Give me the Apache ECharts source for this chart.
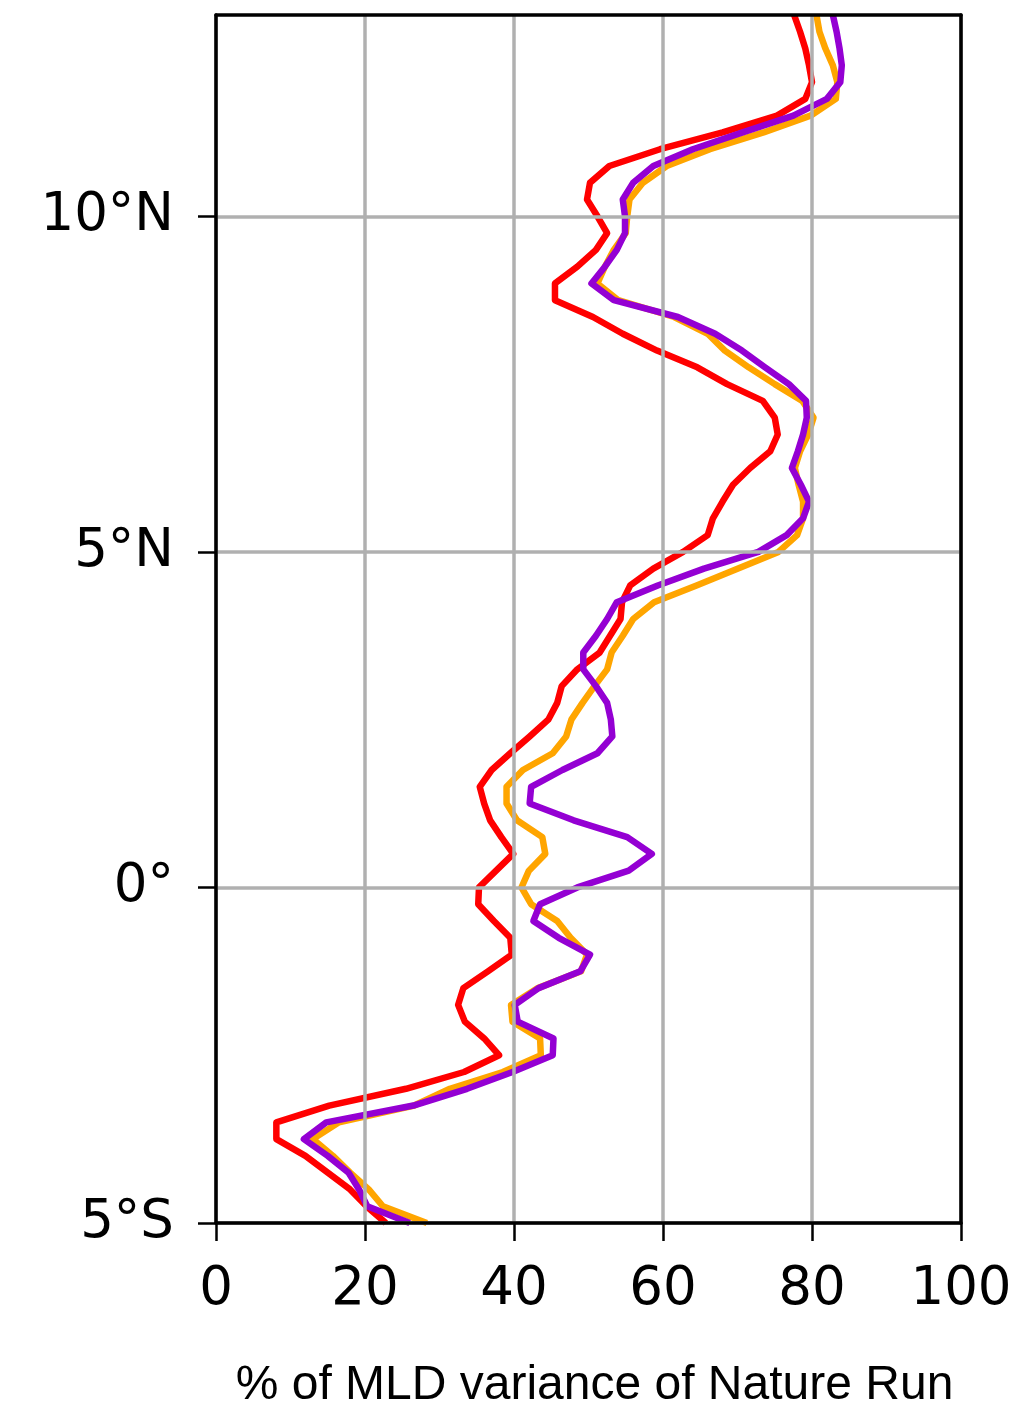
<!DOCTYPE html>
<html>
<head>
<meta charset="utf-8">
<script src="https://cdn.jsdelivr.net/npm/echarts@6/dist/echarts.min.js"></script>
<style>
  html, body { margin: 0; padding: 0; background: #ffffff; }
  #chart { width: 1020px; height: 1408px; }
</style>
</head>
<body>
<div id="chart"></div>
<script>
// Latitude of each sample (degrees, negative = south), 0.25 degree spacing
const latitudes = [
  -5.00, -4.75, -4.50, -4.25, -4.00, -3.75, -3.50, -3.25, -3.00, -2.75,
  -2.50, -2.25, -2.00, -1.75, -1.50, -1.25, -1.00, -0.75, -0.50, -0.25,
   0.00,  0.25,  0.50,  0.75,  1.00,  1.25,  1.50,  1.75,  2.00,  2.25,
   2.50,  2.75,  3.00,  3.25,  3.50,  3.75,  4.00,  4.25,  4.50,  4.75,
   5.00,  5.25,  5.50,  5.75,  6.00,  6.25,  6.50,  6.75,  7.00,  7.25,
   7.50,  7.75,  8.00,  8.25,  8.50,  8.75,  9.00,  9.25,  9.50,  9.75,
  10.00, 10.25, 10.50, 10.75, 11.00, 11.25, 11.50, 11.75, 12.00, 12.25,
  12.50, 12.75, 13.00
];

// % of MLD variance of the Nature Run recovered by each experiment
const expRed = [
  22.8, 20.2, 18.0, 15.0, 12.0,  8.1,  8.1, 15.2, 25.5, 33.3,
  38.0, 36.0, 33.4, 32.5, 33.2, 36.5, 39.7, 39.5, 37.3, 35.2,
  35.3, 37.6, 39.9, 38.3, 36.8, 36.0, 35.4, 37.0, 39.5, 42.1,
  44.6, 45.8, 46.4, 48.5, 51.5, 52.9, 54.3, 54.5, 55.6, 58.7,
  62.7, 66.0, 66.7, 68.0, 69.4, 71.7, 74.4, 75.4, 75.0, 73.4,
  68.6, 64.6, 59.2, 54.6, 50.6, 45.5, 45.5, 48.5, 51.0, 52.5,
  51.2, 49.8, 50.2, 52.8, 59.6, 68.0, 75.3, 79.1, 80.0, 79.6,
  79.1, 78.4, 77.6
];
const expOrange = [
  28.3, 22.4, 20.5, 18.0, 15.7, 13.0, 16.5, 26.6, 31.4, 38.5,
  43.6, 43.5, 39.8, 39.6, 43.2, 49.0, 49.8, 47.6, 45.8, 42.3,
  41.0, 42.0, 44.2, 43.8, 40.4, 39.0, 39.0, 41.2, 45.2, 47.0,
  47.7, 49.2, 50.8, 52.5, 53.1, 54.6, 56.0, 58.8, 64.5, 70.0,
  75.5, 78.0, 78.8, 78.8, 78.2, 77.7, 78.4, 79.5, 80.2, 78.7,
  75.0, 71.5, 68.3, 66.0, 61.5, 54.0, 51.2, 52.2, 53.4, 55.0,
  55.2, 55.5, 57.3, 60.5, 66.3, 73.5, 79.8, 83.2, 83.4, 82.8,
  81.8, 81.0, 80.6
];
const expPurple = [
  26.0, 20.3, 19.2, 17.8, 15.0, 11.8, 14.8, 26.5, 33.7, 39.8,
  45.2, 45.3, 40.5, 40.1, 43.3, 48.9, 50.2, 46.0, 42.6, 43.5,
  48.5, 55.4, 58.5, 55.2, 48.0, 42.1, 42.3, 46.5, 51.2, 53.2,
  53.0, 52.5, 51.0, 49.3, 49.3, 51.0, 52.5, 53.8, 59.3, 65.5,
  72.8, 76.6, 78.8, 79.6, 78.5, 77.3, 78.1, 78.8, 79.3, 79.2,
  76.9, 73.7, 70.6, 67.0, 62.0, 53.4, 50.4, 52.2, 53.8, 54.9,
  54.9, 54.6, 56.0, 58.7, 64.0, 70.7, 77.5, 82.0, 83.8, 84.0,
  83.7, 83.3, 82.8
];

// Axis ticks
const percentTicks = [0, 20, 40, 60, 80, 100];
const latTicks = [-5, 0, 5, 10];

const tickFont = 'DejaVu Sans';
const titleFont = '"Liberation Sans", Arial, Helvetica, sans-serif';

function latLabel(v) {
  if (v > 0) return v + '°N';
  if (v < 0) return (-v) + '°S';
  return '0°';
}

function profile(values) {
  return values.map((v, i) => [v, latitudes[i]]);
}

const chart = echarts.init(document.getElementById('chart'), null, { renderer: 'canvas' });

const spine = { color: '#000000', width: 3.5 };

chart.setOption({
  animation: false,
  backgroundColor: '#ffffff',
  grid: {
    left: 216, right: 59, top: 15, bottom: 185,
    containLabel: false,
    outerBoundsMode: 'none',
    show: false
  },
  xAxis: [
    {
      type: 'value',
      position: 'bottom',
      min: percentTicks[0],
      max: percentTicks[percentTicks.length - 1],
      interval: 20,
      name: '% of MLD variance of Nature Run',
      nameLocation: 'middle',
      nameGap: 139,
      nameTextStyle: { fontFamily: titleFont, fontSize: 48, color: '#000000', padding: [0, 0, 0, 12] },
      axisLine: { show: true, onZero: false, lineStyle: spine },
      axisTick: { show: true, length: 18, lineStyle: { color: '#000000', width: 2.5 } },
      axisLabel: { margin: 41, fontFamily: tickFont, fontSize: 53, color: '#000000' },
      splitLine: { show: true, lineStyle: { color: '#b0b0b0', width: 3.5 } },
      z: 10
    },
    {
      // top spine of the frame
      type: 'value',
      position: 'top',
      min: 0, max: 100,
      axisLine: { show: true, onZero: false, lineStyle: spine },
      axisTick: { show: false }, axisLabel: { show: false }, splitLine: { show: false },
      z: 10
    }
  ],
  yAxis: [
    {
      type: 'value',
      position: 'left',
      min: -5,
      max: 13,
      interval: 5,
      axisLine: { show: true, onZero: false, lineStyle: spine },
      axisTick: { show: true, length: 18, customValues: latTicks, lineStyle: { color: '#000000', width: 2.5 } },
      axisLabel: {
        margin: 42, fontFamily: tickFont, fontSize: 53, color: '#000000',
        customValues: latTicks,
        formatter: latLabel
      },
      splitLine: { show: true, lineStyle: { color: '#b0b0b0', width: 3.5 } },
      z: 10
    },
    {
      // right spine of the frame
      type: 'value',
      position: 'right',
      min: -5, max: 13,
      axisLine: { show: true, onZero: false, lineStyle: spine },
      axisTick: { show: false }, axisLabel: { show: false }, splitLine: { show: false },
      z: 10
    }
  ],
  series: [
    {
      name: 'Exp 1', type: 'line', data: profile(expRed),
      showSymbol: false, symbol: 'none', z: 3,
      lineStyle: { color: '#ff0000', width: 6.5, join: 'round' }
    },
    {
      name: 'Exp 2', type: 'line', data: profile(expOrange),
      showSymbol: false, symbol: 'none', z: 4,
      lineStyle: { color: '#ffa500', width: 6.5, join: 'round' }
    },
    {
      name: 'Exp 3', type: 'line', data: profile(expPurple),
      showSymbol: false, symbol: 'none', z: 5,
      lineStyle: { color: '#9400d3', width: 6.5, join: 'round' }
    }
  ]
});
</script>
</body>
</html>
